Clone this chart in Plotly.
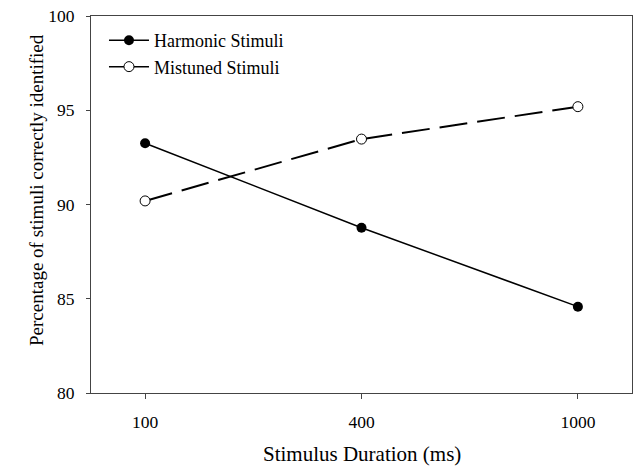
import plotly.graph_objects as go

durations = ["100", "400", "1000"]
harmonic = [93.25, 88.77, 84.58]
mistuned = [90.19, 93.47, 95.19]
y_ticks = [80, 85, 90, 95, 100]

FONT = "Liberation Serif, Times New Roman, serif"

fig = go.Figure()
fig.add_trace(go.Scatter(
    x=durations, y=harmonic, mode="lines+markers", name="Harmonic Stimuli",
    line=dict(color="black", width=1.5),
    marker=dict(symbol="circle", size=10, color="black"),
))
fig.add_trace(go.Scatter(
    x=durations, y=mistuned, mode="lines+markers", name="Mistuned Stimuli",
    line=dict(color="black", width=2, dash="28px,10px"),
    marker=dict(symbol="circle", size=10, color="white", line=dict(color="black", width=1)),
    showlegend=False,
))
# legend entry (solid key line, as in the reference)
fig.add_trace(go.Scatter(
    x=[None], y=[None], mode="lines+markers", name="Mistuned Stimuli",
    line=dict(color="black", width=1.5),
    marker=dict(symbol="circle", size=10, color="white", line=dict(color="black", width=1)),
))

L, R, T, B = 91, 2, 16, 73
W, H = 634, 466
pw = W - L - R
ph = H - T - B

fig.update_layout(
    width=W, height=H,
    margin=dict(l=L, r=R, t=T, b=B),
    paper_bgcolor="white", plot_bgcolor="white",
    font=dict(family=FONT, color="black"),
    showlegend=True,
    legend=dict(x=0.024, y=0.984, xanchor="left", yanchor="top",
                bgcolor="rgba(0,0,0,0)", font=dict(size=18, family=FONT),
                tracegroupgap=0, itemwidth=40),
)
fig.update_xaxes(
    type="category", range=[-0.25, 2.25],
    showline=True, linecolor="#444", linewidth=1, mirror=True,
    ticks="outside", ticklen=5, tickcolor="#444",
    showgrid=False, zeroline=False,
    tickfont=dict(size=17.5, family=FONT), ticklabelstandoff=8,
)
fig.update_yaxes(
    range=[80, 100], tickvals=y_ticks,
    showline=True, linecolor="#444", linewidth=1, mirror=True,
    ticks="outside", ticklen=4, tickcolor="#444",
    showgrid=False, zeroline=False,
    tickfont=dict(size=17.5, family=FONT), ticklabelstandoff=8,
)
fig.add_annotation(
    text="Percentage of stimuli correctly identified", textangle=-90,
    xref="paper", yref="paper", x=(36 - L) / pw, y=(H - B - 190) / ph,
    xanchor="center", yanchor="middle", showarrow=False,
    font=dict(size=19, family=FONT),
)
fig.add_annotation(
    text="Stimulus Duration (ms)",
    xref="paper", yref="paper", x=(362 - L) / pw, y=(H - B - 454) / ph,
    xanchor="center", yanchor="middle", showarrow=False,
    font=dict(size=21, family=FONT),
)

fig.write_html("out.html")
